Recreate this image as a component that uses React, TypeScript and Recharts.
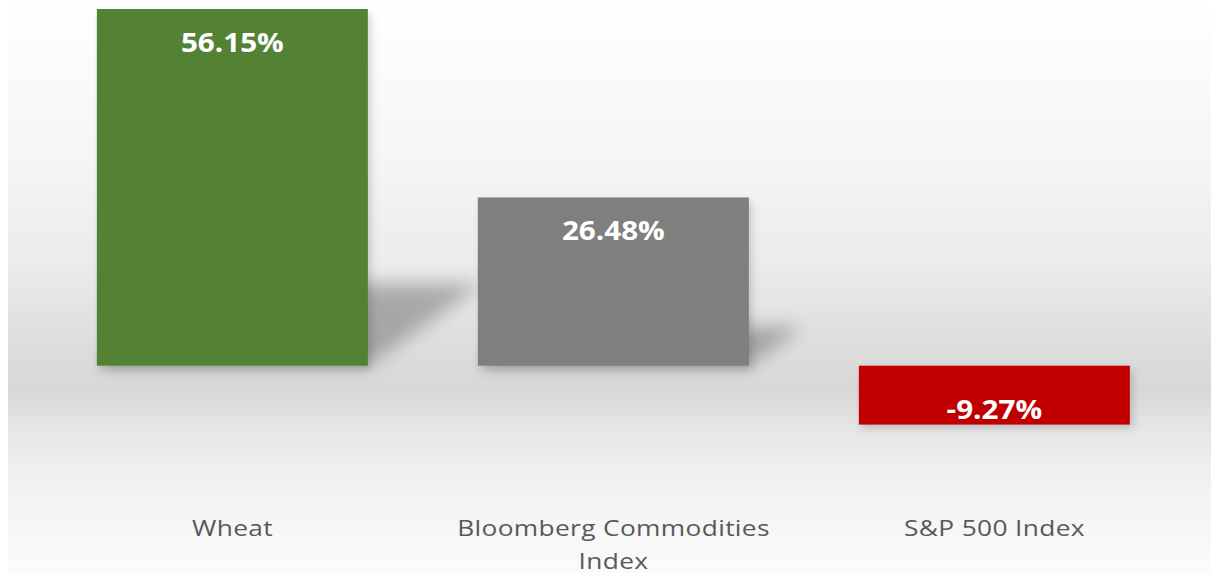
import React from 'react';
import { BarChart, Bar, XAxis, YAxis, Cell, LabelList } from 'recharts';

const categories = ['Wheat', 'Bloomberg Commodities Index', 'S&P 500 Index'];
const returns = [56.15, 26.48, -9.27];
const barColors = ['#548235', '#7f7f7f', '#c00000'];

const data = categories.map((name, i) => ({ name, value: returns[i] }));

const FONT = '"Open Sans", "DejaVu Sans", sans-serif';

// the source picture is stretched sideways a bit, so text gets a horizontal scale
const stretch = (cx: number, s: number) => `translate(${cx},0) scale(${s},1) translate(${-cx},0)`;

// bar with a skewed "perspective" shadow behind it, like the office chart style
const ShadowBar = (props: any) => {
  const { x, y, width, height, fill, index, value } = props;
  const top = Math.min(y, y + height);
  const h = Math.abs(height);
  const fid = `blur-${index}`;
  let shadow = null;
  if (value >= 0) {
    const base = top + h;
    const dx = h * 0.32;
    const dy = h * 0.23;
    const pts = `${x},${base} ${x + width},${base} ${x + width + dx},${base - dy} ${x + dx},${base - dy}`;
    shadow = <polygon points={pts} fill="#000" opacity={0.26} filter={`url(#${fid})`} />;
  }
  return (
    <g>
      <defs>
        <filter id={fid} x="-50%" y="-50%" width="200%" height="200%">
          <feGaussianBlur stdDeviation={9} />
        </filter>
        <filter id={`${fid}-d`} x="-20%" y="-20%" width="140%" height="140%">
          <feGaussianBlur stdDeviation={4} />
        </filter>
      </defs>
      {shadow}
      <rect x={x + 3} y={top + 4} width={width} height={h} fill="#000" opacity={0.16} filter={`url(#${fid}-d)`} />
      <rect x={x} y={top} width={width} height={h} fill={fill} />
    </g>
  );
};

const ValueLabel = (props: any) => {
  const { x, y, width, height, value } = props;
  const top = Math.min(y, y + height);
  const bottom = Math.max(y, y + height);
  const ty = value >= 0 ? top + 43 : bottom - 6;
  const cx = x + width / 2;
  return (
    <text
      x={cx}
      y={ty}
      textAnchor="middle"
      fill="#ffffff"
      fontSize={26}
      fontWeight={700}
      fontFamily={FONT}
      transform={stretch(cx, 1.14)}
    >
      {value.toFixed(2)}%
    </text>
  );
};

const CategoryTick = (props: any) => {
  const { x, payload } = props;
  const words: string[] = payload.value.split(' ');
  const lines: string[] = [];
  let cur = '';
  for (const w of words) {
    const next = cur ? cur + ' ' + w : w;
    if (next.length > 22 && cur) {
      lines.push(cur);
      cur = w;
    } else cur = next;
  }
  if (cur) lines.push(cur);
  return (
    <text
      x={x}
      y={536}
      textAnchor="middle"
      fill="#595959"
      fontSize={22.5}
      letterSpacing={0.3}
      fontFamily={FONT}
      transform={stretch(x, 1.17)}
    >
      {lines.map((l, i) => (
        <tspan key={i} x={x} dy={i === 0 ? 0 : 33}>{l}</tspan>
      ))}
    </text>
  );
};

export default function App() {
  return (
    <div
      style={{
        position: 'absolute',
        left: 8,
        top: 0,
        width: 1203,
        height: 573,
        background:
          'linear-gradient(to bottom, #ffffff 0px, #f6f6f6 150px, #ececec 260px, #dedede 340px, #d8d8d8 390px, #e6e6e6 430px, #f1f1f1 480px, #f8f8f8 540px, #fbfbfb 573px)',
      }}
    >
      <BarChart
        width={1203}
        height={573}
        data={data}
        margin={{ top: 9, right: 26, left: 34, bottom: 12 }}
        barCategoryGap="14.4%"
      >
        <XAxis dataKey="name" axisLine={false} tickLine={false} height={100} interval={0} tick={<CategoryTick />} />
        <YAxis hide domain={[-15, 56.15]} allowDataOverflow />
        <Bar dataKey="value" isAnimationActive={false} shape={<ShadowBar />}>
          {data.map((d, i) => (
            <Cell key={d.name} fill={barColors[i]} />
          ))}
          <LabelList dataKey="value" content={<ValueLabel />} />
        </Bar>
      </BarChart>
    </div>
  );
}
